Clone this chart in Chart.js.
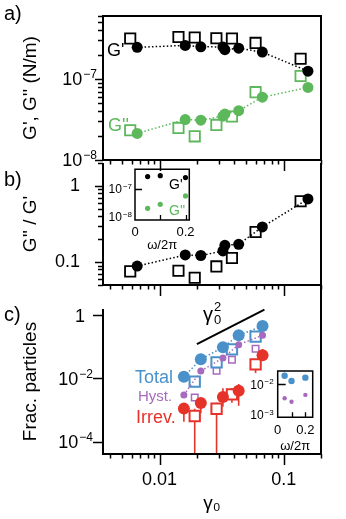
<!DOCTYPE html>
<html>
<head>
<meta charset="utf-8">
<script src="https://cdn.jsdelivr.net/npm/chart.js"></script>
<style>
  html, body { margin: 0; padding: 0; background: #fff; }
  #wrap { position: relative; width: 346px; height: 519px; overflow: hidden;
          font-family: "Liberation Sans", Arial, Helvetica, sans-serif; }
  #wrap canvas { position: absolute; left: 0; top: 0; }
  .lbl { position: absolute; white-space: nowrap; line-height: 1; }
  .ss { display: inline-block; position: relative; width: 8px; height: 0; }
  .ss span { position: absolute; left: 1px; font-size: 13px; line-height: 1; }
</style>
</head>
<body>
<div id="wrap">
  <canvas id="pa" width="346" height="519"></canvas>
  <canvas id="pb" width="346" height="519"></canvas>
  <canvas id="pc" width="346" height="519"></canvas>
  <canvas id="ib" width="346" height="519"></canvas>
  <canvas id="ic" width="346" height="519"></canvas>

  <div class="lbl" style="left:4px;top:3px;font-size:20px">a)</div>
  <div class="lbl" style="left:4px;top:169px;font-size:20px">b)</div>
  <div class="lbl" style="left:4px;top:304px;font-size:20px">c)</div>

  <div class="lbl" style="left:107px;top:41px;font-size:18px">G'</div>
  <div class="lbl" style="left:108px;top:116px;font-size:18px;color:#5cb85a">G''</div>

  <div class="lbl" style="left:169px;top:177px;font-size:14px">G'</div>
  <div class="lbl" style="left:169px;top:203px;font-size:14px;color:#5cb85a">G''</div>

  <div class="lbl" style="left:203px;top:304px;font-size:20px">γ<span class="ss"><span style="top:-21px">2</span><span style="top:-8px">0</span></span></div>

  <div class="lbl" style="left:135px;top:368px;font-size:18px;color:#4a90c9">Total</div>
  <div class="lbl" style="left:138px;top:388px;font-size:15px;color:#a66bbf">Hyst.</div>
  <div class="lbl" style="left:136px;top:408px;font-size:18px;color:#e5332a">Irrev.</div>
</div>

<script>
// strain amplitude gamma_0 for the rheology points
const gCirc = [0.0066, 0.0161, 0.0215, 0.0324, 0.0336, 0.0434, 0.0673, 0.157];
const gSq = [0.0058, 0.0142, 0.0192, 0.0287, 0.0383, 0.0594, 0.137];

// a) G' and G'' (N/m)
const gpCirc = [2.46e-7, 2.6e-7, 2.5e-7, 2.49e-7, 2.3e-7, 2.4e-7, 2.15e-7, 1.25e-7];
const gpSq = [3.16e-7, 3.3e-7, 3.26e-7, 3.19e-7, 3.16e-7, 2.79e-7, 1.78e-7];
const gppCirc = [2.13e-8, 3.16e-8, 3.1e-8, 3.48e-8, 3.69e-8, 4.06e-8, 5.96e-8, 7.87e-8];
const gppSq = [2.33e-8, 2.49e-8, 1.96e-8, 2.71e-8, 3.45e-8, 6.88e-8, 1.09e-7];

// b) G''/G'
const ratioCirc = [0.0886, 0.124, 0.122, 0.140, 0.166, 0.171, 0.289, 0.674];
const ratioSq = [0.0755, 0.077, 0.0623, 0.0877, 0.113, 0.248, 0.629];

// b) inset, frequency sweep
const freq = [0.05, 0.1, 0.2];
const freqGp = [2.8e-7, 3.0e-7, 2.56e-7];
const freqGpp = [2.0e-8, 2.8e-8, 5.6e-8];

// c) fraction of particles
const cCirc = [0.0157, 0.0215, 0.0324, 0.0434, 0.0676];
const cSq = [0.0192, 0.0288, 0.0383, 0.0594];
const totalCirc = [0.0113, 0.040, 0.0957, 0.229, 0.45];
const totalSq = [0.00787, 0.0321, 0.0826, 0.207];
const hystCirc = [0.003, 0.0171, 0.044, 0.116, 0.229];
const hystSq = [0.00247, 0.0175, 0.039, 0.0865];
const irrevCirc = [0.00111, 0.00168, 0.00259, 0.0041, 0.0535];
const irrevSq = [0.00065, 0.0011, 0.00314, 0.0278];
const irrevCircLo = [0.00043, 0.00079, 0.00127, 0.00138, 0.038];
const irrevCircHi = [0.00164, 0.0024, 0.0049, 0.0067, 0.085];
const irrevSqLo = [1e-6, 1e-6, 0.0017, 0.0147];
const irrevSqHi = [0.0011, 0.0017, 0.005, 0.034];
const slopeX = [0.02, 0.07];
const slopeY = [0.12, 1.47];

// c) inset
const freqTot = [0.019, 0.0128, 0.0164];
const freqHyst = [0.0035, 0.0027, 0.0045];

// tick labels
const xLab = [[0.01, 0.1], ['0.01', '0.1']];
const yLabA = [[1e-8, 1e-7], ['10^−8', '10^−7']];
const yLabB = [[0.1, 1], ['0.1', '1']];
const yLabC = [[1e-4, 1e-2, 1], ['10^−4', '10^−2', '1']];
const insetXLab = [[0, 0.2], ['0', '0.2']];
const insetYLabB = [[1e-8, 1e-7], ['10^−8', '10^−7']];
const insetYLabC = [[1e-3, 1e-2], ['10^−3', '10^−2']];

const GREEN = '#5cb85a', BLUE = '#4a90c9', PURPLE = '#a66bbf', RED = '#e5332a';
const FONT = "'Liberation Sans', Arial, Helvetica, sans-serif";

Chart.defaults.font.family = FONT;
Chart.defaults.color = '#000';

function pickLabel(vals, texts) {
  return function (v) {
    for (let i = 0; i < vals.length; i++) {
      if (Math.abs(v - vals[i]) <= Math.abs(vals[i]) * 1e-6 + 1e-12) return texts[i];
    }
    return '';
  };
}

// tick marks on a log axis, long ones at the decades
function logTicks(min, max, major, minor, withMinor) {
  const out = [];
  for (let e = Math.floor(Math.log10(min)); e <= Math.ceil(Math.log10(max)); e++) {
    for (let m = 1; m <= 9; m++) {
      if (m > 1 && !withMinor) break;
      const v = m * Math.pow(10, e);
      if (v >= min * 0.999 && v <= max * 1.001) out.push({ v, len: m === 1 ? major : minor });
    }
  }
  return out;
}

// frame lines, tick marks (outward for the main panels, inward for the insets)
// and y tick labels that need a raised exponent
const decor = {
  id: 'decor',
  afterDraw(chart, args, o) {
    const { ctx, chartArea: a, scales } = chart;
    ctx.save();
    ctx.strokeStyle = '#000';
    ctx.lineWidth = o.lw;
    ctx.beginPath();
    const s = o.sides;
    if (s.includes('left')) { ctx.moveTo(a.left, a.top); ctx.lineTo(a.left, a.bottom + o.lw / 2); }
    if (s.includes('bottom')) { ctx.moveTo(a.left - o.lw / 2, a.bottom); ctx.lineTo(a.right + o.lw / 2, a.bottom); }
    if (s.includes('top')) { ctx.moveTo(a.left - o.lw / 2, a.top); ctx.lineTo(a.right + o.lw / 2, a.top); }
    if (s.includes('right')) { ctx.moveTo(a.right, a.top - (o.rightExt || 0)); ctx.lineTo(a.right, a.bottom + o.lw / 2); }
    ctx.stroke();
    ctx.lineWidth = o.tw;
    ctx.beginPath();
    (o.xTicks || []).forEach(t => {
      const px = Math.round(scales.x.getPixelForValue(t.v)) + 0.5;
      ctx.moveTo(px, a.bottom);
      ctx.lineTo(px, a.bottom + o.dir * t.len);
    });
    (o.yTicks || []).forEach(t => {
      const py = Math.round(scales.y.getPixelForValue(t.v)) + 0.5;
      ctx.moveTo(a.left, py);
      ctx.lineTo(a.left - o.dir * t.len, py);
    });
    ctx.stroke();

    const L = o.yLabels;
    if (L) {
      ctx.fillStyle = '#000';
      ctx.textBaseline = 'alphabetic';
      ctx.textAlign = 'right';
      L.lab[0].forEach((v, i) => {
        const py = scales.y.getPixelForValue(v);
        const parts = L.lab[1][i].split('^');
        const base = py + 0.36 * L.font;
        let xr = a.left - L.pad;
        if (parts[1]) {
          ctx.font = L.supFont + 'px ' + FONT;
          ctx.fillText(parts[1], xr, base - L.raise);
          xr -= ctx.measureText(parts[1]).width + 1;
        } else {
          xr -= L.plainShift || 0;
        }
        ctx.font = L.font + 'px ' + FONT;
        ctx.fillText(parts[0], xr, base);
      });
    }
    ctx.restore();
  }
};

const errBars = {
  id: 'errBars',
  beforeDatasetsDraw(chart) {
    const { ctx, chartArea: a, scales: { x, y } } = chart;
    ctx.save();
    ctx.beginPath();
    ctx.rect(a.left, a.top, a.right - a.left, a.bottom - a.top);
    ctx.clip();
    chart.data.datasets.forEach(ds => {
      if (!ds.errLo) return;
      ctx.strokeStyle = ds.errColor;
      ctx.lineWidth = 1.6;
      ctx.beginPath();
      ds.data.forEach((p, i) => {
        const px = x.getPixelForValue(p.x);
        ctx.moveTo(px, y.getPixelForValue(ds.errHi[i]));
        ctx.lineTo(px, Math.min(y.getPixelForValue(ds.errLo[i]), a.bottom + 5));
      });
      ctx.stroke();
    });
    ctx.restore();
  }
};

function axis(o) {
  const ax = {
    type: o.type, min: o.min, max: o.max,
    grid: { display: false }, border: { display: false },
    ticks: { display: !!o.labels, autoSkip: false, maxRotation: 0, minRotation: 0,
             includeBounds: false, padding: o.pad || 0, font: { size: o.font || 18 } },
    title: { display: !!o.title, text: o.title || '', font: { size: o.titleFont || 19 },
             padding: o.titlePad || 0 },
    afterFit: s => { if (s.isHorizontal()) s.height = o.size; else s.width = o.size; }
  };
  if (o.labels) ax.ticks.callback = pickLabel(o.labels[0], o.labels[1]);
  if (o.step) ax.ticks.stepSize = o.step;
  return ax;
}

function pts(xs, ys) { return xs.map((x, i) => ({ x, y: ys[i] })); }

function circles(xs, ys, color, r, line) {
  return {
    data: pts(xs, ys), pointStyle: 'circle', pointRadius: r,
    pointBackgroundColor: color, pointBorderColor: color, pointBorderWidth: 0,
    borderColor: color, borderWidth: 1.5, borderDash: [1.5, 2.2], showLine: !!line
  };
}

function squares(xs, ys, color, r, bw) {
  return {
    data: pts(xs, ys), pointStyle: 'rect', pointRadius: r,
    pointBackgroundColor: '#fff', pointBorderColor: color, pointBorderWidth: bw, showLine: false
  };
}

function panel(id, area, xa, ya, datasets, decorOpts) {
  return new Chart(document.getElementById(id), {
    type: 'scatter',
    data: { datasets },
    options: {
      responsive: false, animation: false, devicePixelRatio: 1, events: [],
      layout: { padding: { left: area.l - ya.size, top: area.t, right: 346 - area.r,
                           bottom: 519 - area.b - xa.size } },
      plugins: { legend: { display: false }, tooltip: { enabled: false }, decor: decorOpts },
      scales: { x: axis(xa), y: axis(ya) }
    },
    plugins: [decor, errBars]
  });
}

const X_MIN = 0.0035, X_MAX = 0.2;
const xMainTicks = logTicks(X_MIN, X_MAX, 11, 4.5, true);

// a)
panel('pa', { l: 103, t: 16, r: 321, b: 160 },
  { type: 'logarithmic', min: X_MIN, max: X_MAX, size: 10 },
  { type: 'logarithmic', min: 1e-8, max: 6e-7, size: 93,
    title: "G', G'' (N/m)", titlePad: { top: 9, bottom: 0 } },
  [
    circles(gCirc, gpCirc, '#000', 5.5, true),
    circles(gCirc, gppCirc, GREEN, 5.5, true),
    squares(gSq, gpSq, '#000', 7.3, 1.8),
    squares(gSq, gppSq, GREEN, 7.3, 1.8)
  ],
  { sides: ['left', 'bottom', 'top', 'right'], lw: 2, tw: 1.5, dir: 1,
    xTicks: xMainTicks, yTicks: logTicks(1e-8, 6e-7, 8, 5, true),
    yLabels: { lab: yLabA, pad: 6, font: 18, supFont: 12, raise: 7 } });

// b)
panel('pb', { l: 103, t: 163, r: 321, b: 285 },
  { type: 'logarithmic', min: X_MIN, max: X_MAX, size: 10 },
  { type: 'logarithmic', min: 0.05, max: 2, size: 93, labels: yLabB, pad: 15,
    title: "G'' / G'", titlePad: { top: 9, bottom: 0 } },
  [
    circles(gCirc, ratioCirc, '#000', 5.5, true),
    squares(gSq, ratioSq, '#000', 7.3, 1.8)
  ],
  { sides: ['left', 'bottom', 'right'], lw: 2, tw: 1.5, dir: 1,
    xTicks: xMainTicks, yTicks: logTicks(0.05, 2, 8, 5, true) });

// c)
const irrevC = circles(cCirc, irrevCirc, RED, 6, false);
irrevC.errLo = irrevCircLo; irrevC.errHi = irrevCircHi; irrevC.errColor = RED;
const irrevS = squares(cSq, irrevSq, RED, 7.3, 2);
irrevS.errLo = irrevSqLo; irrevS.errHi = irrevSqHi; irrevS.errColor = RED;
panel('pc', { l: 103, t: 309, r: 321, b: 454 },
  { type: 'logarithmic', min: X_MIN, max: X_MAX, size: 65, labels: xLab, pad: 7,
    title: 'γ₀', titlePad: { top: 0, bottom: 4 } },
  { type: 'logarithmic', min: 4.1e-5, max: 1.55, size: 93,
    title: 'Frac. particles', titlePad: { top: 9, bottom: 0 } },
  [
    { data: pts(slopeX, slopeY), showLine: true, borderColor: '#000', borderWidth: 2,
      pointRadius: 0, clip: false },
    circles(cCirc, totalCirc, BLUE, 6, true),
    circles(cCirc, hystCirc, PURPLE, 3.5, true),
    irrevC,
    squares(cSq, totalSq, BLUE, 7.3, 2),
    squares(cSq, hystSq, PURPLE, 4.6, 1.5),
    irrevS
  ],
  { sides: ['left', 'bottom', 'right'], lw: 2, tw: 1.5, dir: 1, rightExt: 24,
    xTicks: xMainTicks, yTicks: [{ v: 1e-4, len: 10 }, { v: 1e-2, len: 10 }, { v: 1, len: 10 }],
    yLabels: { lab: yLabC, pad: 10, font: 18, supFont: 12, raise: 7, plainShift: 8 } });

// b) inset
panel('ib', { l: 135, t: 169.3, r: 189.3, b: 220 },
  { type: 'linear', min: 0, max: 0.215, size: 33, labels: insetXLab, pad: -3, font: 13, step: 0.1,
    title: 'ω/2π', titleFont: 13 },
  { type: 'logarithmic', min: 7.6e-9, max: 5.1e-7, size: 30 },
  [
    circles(freq, freqGp, '#000', 2.6, false),
    circles(freq, freqGpp, GREEN, 2.6, false)
  ],
  { sides: ['left', 'bottom', 'top', 'right'], lw: 1.5, tw: 1.3, dir: -1,
    xTicks: [{ v: 0.1, len: 5 }, { v: 0.2, len: 5 }], yTicks: [{ v: 1e-7, len: 7 }],
    yLabels: { lab: insetYLabB, pad: 3, font: 12, supFont: 8, raise: 4.5 } });

// c) inset
panel('ic', { l: 277.7, t: 371, r: 312.7, b: 417.3 },
  { type: 'linear', min: 0, max: 0.253, size: 37, labels: insetXLab, pad: -3, font: 13, step: 0.1,
    title: 'ω/2π', titleFont: 13 },
  { type: 'logarithmic', min: 8.4e-4, max: 0.027, size: 30 },
  [
    circles(freq, freqTot, BLUE, 3.2, false),
    circles(freq, freqHyst, PURPLE, 2.2, false)
  ],
  { sides: ['left', 'bottom', 'top', 'right'], lw: 1.5, tw: 1.3, dir: -1,
    xTicks: [{ v: 0.1, len: 5 }, { v: 0.2, len: 5 }], yTicks: [{ v: 1e-2, len: 8 }],
    yLabels: { lab: insetYLabC, pad: 4, font: 12, supFont: 8, raise: 4.5 } });
</script>
</body>
</html>
